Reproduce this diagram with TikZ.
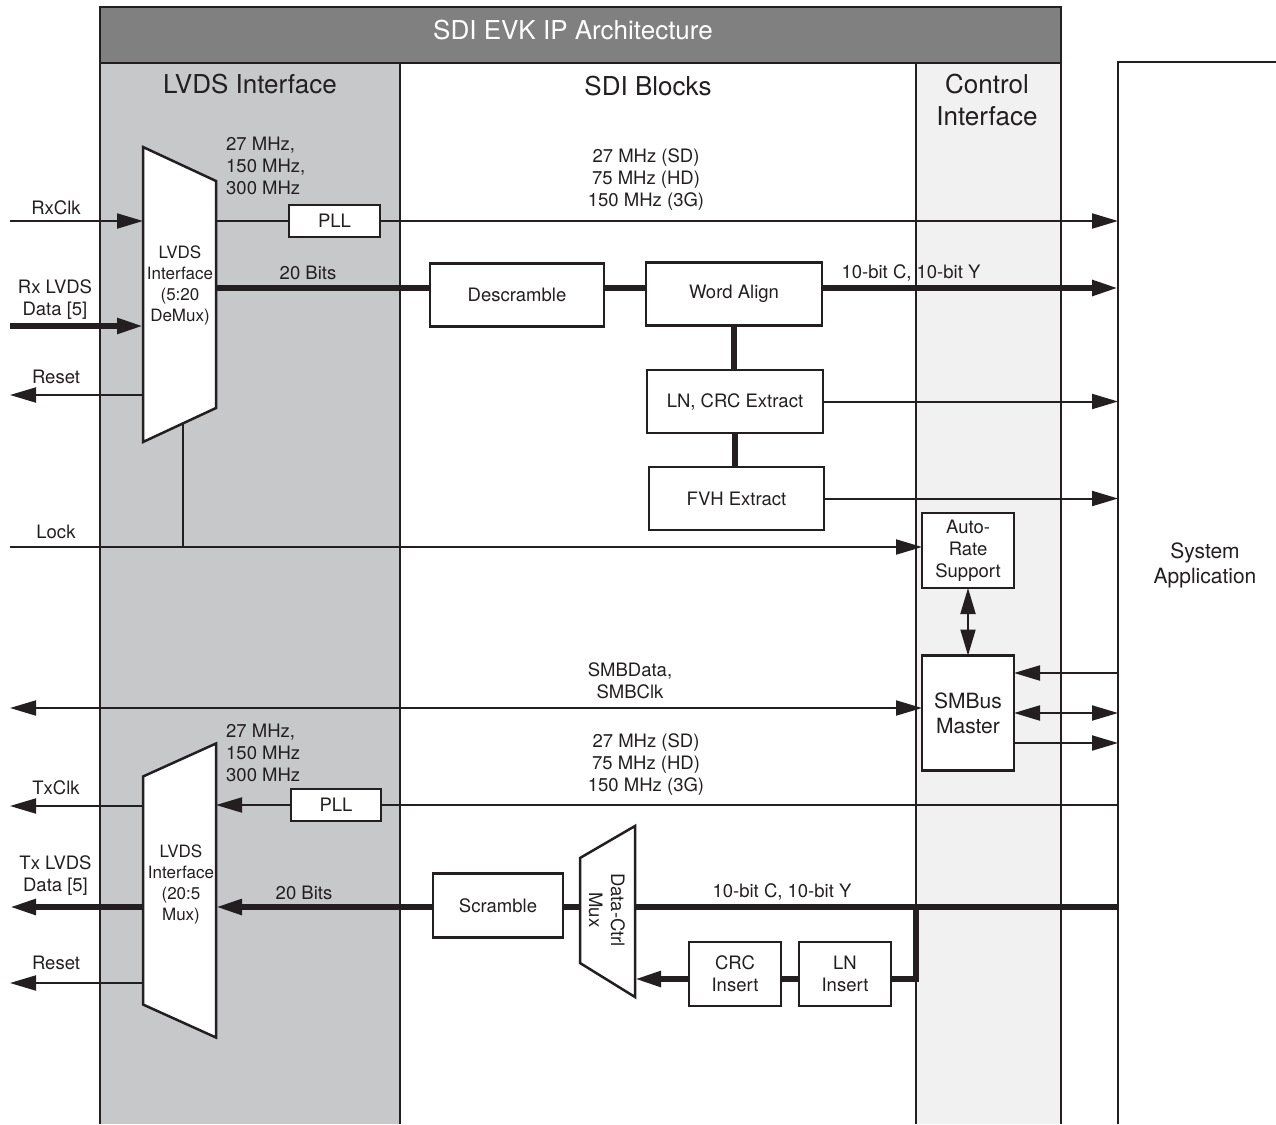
\documentclass[tikz,border=0pt]{standalone}
\usepackage{fontspec}
\setmainfont{TeX Gyre Heros}
\usetikzlibrary{arrows.meta,positioning,calc}
\definecolor{ink}{HTML}{231F20}
\definecolor{lvdsgray}{HTML}{C7C8CA}
\definecolor{ctrlgray}{HTML}{F1F1F1}
\definecolor{titlegray}{HTML}{808080}
\newcommand{\bodysz}{\fontsize{18.5}{22}\selectfont}
\newcommand{\headsz}{\fontsize{26}{32}\selectfont}
\newcommand{\midsz}{\fontsize{21}{25}\selectfont}
\newcommand{\muxsz}{\fontsize{17}{21}\selectfont}
\tikzset{
  >={Triangle[length=26pt,width=15pt]},
  blk/.style={draw=ink,line width=2.5pt,fill=white,inner sep=0pt,outer sep=0pt,
              align=center,font=\bodysz,text=ink},
  muxframe/.style={minimum width=#1,inner sep=0pt,outer sep=0pt},
  muxline/.style={draw=ink,line width=2.5pt,fill=white,line join=miter},
  sig/.style={draw=ink,line width=2pt},
  bus/.style={draw=ink,line width=5.5pt},
  lbl/.style={inner sep=0pt,align=center,font=\bodysz,text=ink},
  col/.style={draw=ink,line width=2.5pt}
}

\begin{document}
\begin{tikzpicture}[x=1pt,y=-1pt]
\useasboundingbox (0,0) rectangle (1276,1124);

% columns and title bar
\fill[lvdsgray] (100,63) rectangle (400,1124);
\fill[ctrlgray] (916,63) rectangle (1061,1124);
\draw[col,fill=titlegray] (100,7) rectangle (1061,63);
\foreach \x in {100,400,916,1061}
  \draw[col] (\x,63) -- (\x,1124);
\draw[col] (1118,1124) -- (1118,62) -- (1280,62);
\coordinate (sa) at (1118,0);

\node[font=\headsz,text=white,inner sep=0pt] (title) at (573,30) {SDI EVK IP Architecture};
\node[lbl,font=\headsz] (hlvds) at (250,84) {LVDS Interface};
\node[lbl,font=\headsz] (hsdi) at (648,86) {SDI Blocks};
\node[lbl,font=\headsz] (hctrl) at (987,100) {Control\\Interface};
\node[lbl,font=\midsz] (lsys) at (1205,565) {System\\Application};

% receive path
\node[muxframe=73pt,minimum height=295pt] (rxmux) at (179.5,294.5) {};
\coordinate (rxtr) at ($(rxmux.north east)+(0,34)$);
\coordinate (rxbr) at ($(rxmux.south east)+(0,-34)$);
\draw[muxline] (rxmux.north west) -- (rxtr) -- (rxbr) -- (rxmux.south west) -- cycle;
\node[lbl,font=\muxsz] (rxmuxtxt) at (180,285) {LVDS\\Interface\\(5:20\\DeMux)};

\node[blk,minimum width=91pt,minimum height=32pt] (rxpll) at (334.5,221) {PLL};
\node[blk,minimum width=174pt,minimum height=63pt] (descr) at (517,295) {Descramble};
\node[blk,minimum width=176pt,minimum height=63pt] (walign) at (734,294) {Word Align};
\node[blk,minimum width=176pt,minimum height=63pt] (lncrc) at (735,401.5) {LN, CRC Extract};
\node[blk,minimum width=175pt,minimum height=63pt] (fvh) at (736.5,498.5) {FVH Extract};

\coordinate (rxclkin) at (10,221);
\draw[sig,->] (rxclkin) -- (rxclkin -| rxmux.west);
\draw[sig] (rxclkin -| rxmux.east) -- (rxpll.west);
\draw[sig,->] (rxpll.east) -- (rxpll.east -| sa);
\coordinate (rxdatain) at (10,326);
\draw[bus,->] (rxdatain) -- (rxdatain -| rxmux.west);
\coordinate (rxrst) at (10,395);
\draw[sig,->] (rxrst -| rxmux.west) -- (rxrst);
\coordinate (rxbits) at (0,288);
\draw[bus] (rxbits -| rxmux.east) -- (rxbits -| descr.west);
\draw[bus] (rxbits -| descr.east) -- (rxbits -| walign.west);
\draw[bus,->] (rxbits -| walign.east) -- (rxbits -| sa);
\draw[bus] (walign.south) -- (walign.south |- lncrc.north);
\draw[bus] (lncrc.south) -- (lncrc.south |- fvh.north);
\draw[sig,->] (lncrc.east) -- (lncrc.east -| sa);
\draw[sig,->] (fvh.east) -- (fvh.east -| sa);

% control interface
\node[blk,minimum width=92pt,minimum height=75pt] (autorate) at (968,550.5) {Auto-\\Rate\\Support};
\node[blk,minimum width=92pt,minimum height=115pt,font=\midsz] (smbus) at (968,713) {SMBus\\Master};

\coordinate (lockin) at (10,547);
\coordinate (lockjn) at ($(rxmux.south west)!0.548!(rxbr)$);
\draw[sig,->] (lockin) -- (lockin -| autorate.west);
\draw[sig] (lockjn) -- (lockjn |- lockin);
\draw[sig,<->] (autorate.south) -- (smbus.north);
\coordinate (smbin) at (0,673);
\draw[sig,->] (smbin -| sa) -- (smbin -| smbus.east);
\draw[sig,<->] (smbus.east) -- (smbus.east -| sa);
\coordinate (smbout) at (0,743);
\draw[sig,->] (smbout -| smbus.east) -- (smbout -| sa);
\coordinate (smbdata) at (10,708);
\draw[sig,<->] (smbdata) -- (smbdata -| smbus.west);

% transmit path
\node[muxframe=73pt,minimum height=294pt] (txmux) at (179.5,890.5) {};
\coordinate (txtl) at ($(txmux.north west)+(0,33)$);
\coordinate (txbl) at ($(txmux.south west)+(0,-33)$);
\draw[muxline] (txtl) -- (txmux.north east) -- (txmux.south east) -- (txbl) -- cycle;
\node[lbl,font=\muxsz] (txmuxtxt) at (181,884) {LVDS\\Interface\\(20:5\\Mux)};

\node[muxframe=55pt,minimum height=171pt] (dcmux) at (607.5,911.5) {};
\coordinate (dctl) at ($(dcmux.north west)+(0,32)$);
\coordinate (dcbl) at ($(dcmux.south west)+(0,-34)$);
\draw[muxline] (dctl) -- (dcmux.north east) -- (dcmux.south east) -- (dcbl) -- cycle;
\node[lbl,rotate=-90] (dcmuxtxt) at (607,910) {Data-Ctrl\\Mux};

\node[blk,minimum width=90pt,minimum height=32pt] (txpll) at (336,805) {PLL};
\node[blk,minimum width=130pt,minimum height=64pt] (scram) at (498,905.5) {Scramble};
\node[blk,minimum width=92pt,minimum height=64pt] (crcins) at (735,974) {CRC\\Insert};
\node[blk,minimum width=92pt,minimum height=64pt] (lnins) at (845,974) {LN\\Insert};

\draw[sig] (txpll.east -| sa) -- (txpll.east);
\draw[sig,->] (txpll.west) -- (txpll.west -| txmux.east);
\coordinate (txclkout) at (10,806);
\draw[sig,->] (txclkout -| txmux.west) -- (txclkout);
\coordinate (txbits) at (10,907);
\draw[bus,->] (txbits -| txmux.west) -- (txbits);
\draw[bus,->] (txbits -| scram.west) -- (txbits -| txmux.east);
\draw[bus] (txbits -| scram.east) -- (txbits -| dcmux.west);
\draw[bus] (txbits -| dcmux.east) -- (txbits -| sa);
\coordinate (insbend) at (916,979);
\draw[bus] (insbend |- txbits) -- (insbend) -- (insbend -| lnins.east);
\draw[bus] (insbend -| lnins.west) -- (insbend -| crcins.east);
\draw[bus,->] (insbend -| crcins.west) -- (insbend -| dcmux.east);
\coordinate (txrst) at (10,983);
\draw[sig,->] (txrst -| txmux.west) -- (txrst);

% signal labels
\node[lbl] (lrxclk) at (56,208) {RxClk};
\node[lbl] (lrxdata) at (55,300) {Rx LVDS\\Data [5]};
\node[lbl] (lrxrst) at (56,377) {Reset};
\node[lbl] (llock) at (56,532) {Lock};
\node[lbl,anchor=west,align=left] (lrxfreq) at (226,166) {27 MHz,\\150 MHz,\\300 MHz};
\node[lbl] (lrxrate) at (646,179.5) {27 MHz (SD)\\75 MHz (HD)\\150 MHz (3G)};
\node[lbl] (lrxbits) at (308,273) {20 Bits};
\node[lbl] (lrxcy) at (911,273) {10-bit C, 10-bit Y};
\node[lbl] (lsmb) at (630,680.5) {SMBData,\\SMBClk};
\node[lbl,anchor=west,align=left] (ltxfreq) at (226,752.5) {27 MHz,\\150 MHz\\300 MHz};
\node[lbl] (ltxrate) at (646,764.5) {27 MHz (SD)\\75 MHz (HD)\\150 MHz (3G)};
\node[lbl] (ltxclk) at (56,788) {TxClk};
\node[lbl] (ltxdata) at (55.5,876) {Tx LVDS\\Data [5]};
\node[lbl] (ltxrst) at (56,963) {Reset};
\node[lbl] (ltxbits) at (304,893) {20 Bits};
\node[lbl] (ltxcy) at (782,892) {10-bit C, 10-bit Y};
\end{tikzpicture}
\end{document}
